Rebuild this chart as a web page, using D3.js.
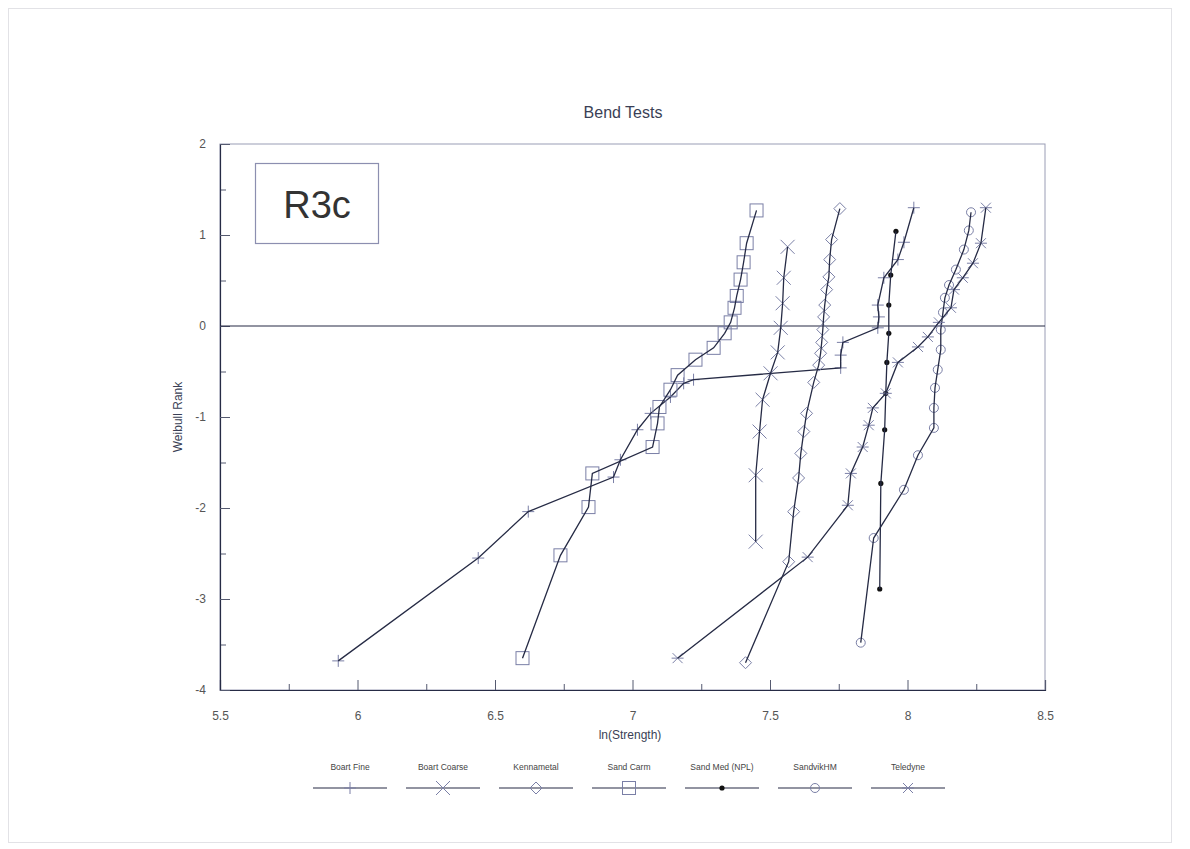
<!DOCTYPE html>
<html>
<head>
<meta charset="utf-8">
<script src="https://cdn.jsdelivr.net/npm/d3@7"></script>
<style>
  html, body { margin: 0; padding: 0; background: #fff; }
  svg { display: block; font-family: "Liberation Sans", Arial, sans-serif; }
</style>
</head>
<body>
<svg id="chart" width="1190" height="849"></svg>
<script>
// ln(strength) / Weibull rank pairs for each material
const boartFineX = [5.930, 6.439, 6.621, 6.931, 6.956, 7.018, 7.066, 7.138, 7.186, 7.222, 7.757, 7.757, 7.765, 7.892, 7.896, 7.892, 7.914, 7.965, 7.987, 8.023];
const boartFineY = [-3.68, -2.55, -2.04, -1.66, -1.47, -1.14, -0.96, -0.78, -0.63, -0.59, -0.46, -0.32, -0.18, -0.02, 0.10, 0.23, 0.53, 0.73, 0.92, 1.30];

const boartCoarseX = [7.448, 7.448, 7.462, 7.473, 7.502, 7.528, 7.539, 7.546, 7.550, 7.564];
const boartCoarseY = [-2.37, -1.64, -1.16, -0.81, -0.52, -0.29, -0.02, 0.25, 0.53, 0.87];

const kennametalX = [7.411, 7.568, 7.586, 7.604, 7.612, 7.623, 7.633, 7.659, 7.677, 7.684, 7.688, 7.692, 7.695, 7.699, 7.706, 7.714, 7.717, 7.724, 7.754];
const kennametalY = [-3.70, -2.59, -2.04, -1.67, -1.40, -1.16, -0.96, -0.62, -0.43, -0.30, -0.18, -0.04, 0.10, 0.23, 0.40, 0.54, 0.73, 0.95, 1.29];

const sandCarmX = [6.600, 6.738, 6.840, 6.854, 7.073, 7.091, 7.098, 7.138, 7.164, 7.229, 7.295, 7.335, 7.357, 7.371, 7.379, 7.393, 7.404, 7.415, 7.451];
const sandCarmY = [-3.65, -2.52, -1.99, -1.62, -1.33, -1.07, -0.89, -0.70, -0.54, -0.37, -0.24, -0.08, 0.04, 0.20, 0.33, 0.51, 0.70, 0.91, 1.27];

const sandMedX = [7.899, 7.903, 7.917, 7.921, 7.925, 7.932, 7.932, 7.939, 7.958];
const sandMedY = [-2.89, -1.73, -1.14, -0.74, -0.40, -0.08, 0.23, 0.56, 1.04];

const sandvikX = [7.830, 7.877, 7.987, 8.038, 8.096, 8.096, 8.100, 8.110, 8.121, 8.121, 8.129, 8.136, 8.151, 8.176, 8.205, 8.223, 8.231];
const sandvikY = [-3.48, -2.33, -1.80, -1.42, -1.12, -0.90, -0.68, -0.48, -0.26, -0.04, 0.15, 0.31, 0.45, 0.62, 0.84, 1.05, 1.25];

const teledyneX = [7.164, 7.637, 7.783, 7.794, 7.837, 7.859, 7.874, 7.921, 7.965, 8.038, 8.074, 8.114, 8.158, 8.169, 8.201, 8.238, 8.267, 8.285];
const teledyneY = [-3.65, -2.54, -1.97, -1.62, -1.33, -1.09, -0.90, -0.74, -0.40, -0.23, -0.12, 0.04, 0.20, 0.40, 0.53, 0.69, 0.91, 1.30];

const seriesNames = ["Boart Fine", "Boart Coarse", "Kennametal", "Sand Carm", "Sand Med (NPL)", "SandvikHM", "Teledyne"];
const seriesMarkers = ["plus", "cross", "diamond", "square", "dot", "circle", "star"];

const xTicks = [5.5, 6, 6.5, 7, 7.5, 8, 8.5];
const xTickLabels = ["5.5", "6", "6.5", "7", "7.5", "8", "8.5"];
const yTicks = [-4, -3, -2, -1, 0, 1, 2];
const yTickLabels = ["-4", "-3", "-2", "-1", "0", "1", "2"];

const seriesData = [
  [boartFineX, boartFineY], [boartCoarseX, boartCoarseY], [kennametalX, kennametalY],
  [sandCarmX, sandCarmY], [sandMedX, sandMedY], [sandvikX, sandvikY], [teledyneX, teledyneY]
].map(([xs, ys], i) => ({
  name: seriesNames[i], marker: seriesMarkers[i],
  points: xs.map((x, j) => ({ x, y: ys[j] }))
}));

const svg = d3.select("#chart");
const lineColor = "#262b45";
const markColor = "#7a7fa6";
const textColor = "#3a3f55";

// faint page frame
svg.append("rect").attr("x", 8.5).attr("y", 8.5).attr("width", 1163).attr("height", 834)
  .attr("fill", "none").attr("stroke", "#e2e2e6").attr("stroke-width", 1);

const plot = { left: 220, right: 1045, top: 144, bottom: 690 };
const x = d3.scaleLinear().domain([5.5, 8.5]).range([plot.left, plot.right]);
const y = d3.scaleLinear().domain([-4, 2]).range([plot.bottom, plot.top]);

// frame
svg.append("rect").attr("x", plot.left).attr("y", plot.top)
  .attr("width", plot.right - plot.left).attr("height", plot.bottom - plot.top)
  .attr("fill", "none").attr("stroke", "#9a9db5").attr("stroke-width", 1);

// bottom axis: major ticks every 0.5, minor ticks in between, drawn inward
const xAxisG = svg.append("g").attr("transform", `translate(0,${plot.bottom})`);
xAxisG.call(d3.axisTop(x).tickValues(d3.range(5.75, 8.5, 0.5)).tickSize(6).tickFormat(""));
xAxisG.call(g => g.selectAll(".domain").remove());
const xMajor = svg.append("g").attr("transform", `translate(0,${plot.bottom})`);
xMajor.call(d3.axisTop(x).tickValues(xTicks).tickSize(10).tickFormat(""));
xMajor.select(".domain").attr("stroke", lineColor).attr("stroke-width", 1.2);
svg.selectAll(".tick line").attr("stroke", "#555a70");
const xLab = svg.append("g").attr("transform", `translate(0,${plot.bottom})`)
  .call(d3.axisBottom(x).tickValues(xTicks).tickSize(0).tickPadding(21).tickFormat((d, i) => xTickLabels[i]));
xLab.select(".domain").remove();
xLab.selectAll("text").attr("font-size", 12).attr("fill", "#555").attr("font-family", "Liberation Sans, Arial, sans-serif");

// left axis
const yMinor = svg.append("g").attr("transform", `translate(${plot.left},0)`);
yMinor.call(d3.axisRight(y).tickValues(d3.range(-3.5, 2, 1)).tickSize(6).tickFormat(""));
yMinor.select(".domain").remove();
const yMajor = svg.append("g").attr("transform", `translate(${plot.left},0)`);
yMajor.call(d3.axisRight(y).tickValues(yTicks).tickSize(10).tickFormat(""));
yMajor.select(".domain").attr("stroke", lineColor).attr("stroke-width", 1.2);
svg.selectAll(".tick line").attr("stroke", "#555a70");
const yLab = svg.append("g").attr("transform", `translate(${plot.left},0)`)
  .call(d3.axisLeft(y).tickValues(yTicks).tickSize(0).tickPadding(14).tickFormat((d, i) => yTickLabels[i]));
yLab.select(".domain").remove();
yLab.selectAll("text").attr("font-size", 12).attr("fill", "#555").attr("font-family", "Liberation Sans, Arial, sans-serif");

// zero reference line
svg.append("line").attr("x1", plot.left).attr("x2", plot.right)
  .attr("y1", y(0)).attr("y2", y(0)).attr("stroke", lineColor).attr("stroke-width", 1.2);

// titles
svg.append("text").attr("x", 623).attr("y", 118).attr("text-anchor", "middle")
  .attr("font-size", 16).attr("fill", textColor).text("Bend Tests");
svg.append("text").attr("x", 630).attr("y", 739).attr("text-anchor", "middle")
  .attr("font-size", 12).attr("fill", textColor).text("ln(Strength)");
svg.append("text").attr("transform", `translate(182,${(plot.top + plot.bottom) / 2}) rotate(-90)`)
  .attr("text-anchor", "middle").attr("font-size", 12).attr("fill", textColor).text("Weibull Rank");

// specimen label box
svg.append("rect").attr("x", 255.5).attr("y", 163.5).attr("width", 123).attr("height", 80)
  .attr("fill", "#fff").attr("stroke", "#8c8fb0").attr("stroke-width", 1.2);
svg.append("text").attr("x", 317).attr("y", 218).attr("text-anchor", "middle")
  .attr("font-size", 38).attr("fill", "#333").text("R3c");

// marker drawing
function drawMarker(g, type, cx, cy) {
  const m = g.append("g").attr("transform", `translate(${cx},${cy})`);
  const st = el => el.attr("fill", "none").attr("stroke", markColor).attr("stroke-width", 1);
  if (type === "plus") {
    st(m.append("path").attr("d", "M-6,0H6M0,-6V6"));
  } else if (type === "cross") {
    st(m.append("path").attr("d", "M-7,-7L7,7M-7,7L7,-7"));
  } else if (type === "diamond") {
    st(m.append("path").attr("d", "M0,-6L6,0L0,6L-6,0Z"));
  } else if (type === "square") {
    st(m.append("rect").attr("x", -6.5).attr("y", -6.5).attr("width", 13).attr("height", 13));
  } else if (type === "dot") {
    m.append("circle").attr("r", 2.6).attr("fill", "#111");
  } else if (type === "circle") {
    st(m.append("circle").attr("r", 4.5));
  } else if (type === "star") {
    st(m.append("path").attr("d", "M-5,-5L5,5M-5,5L5,-5M-6,0H6"));
  }
}

const line = d3.line().x(d => x(d.x)).y(d => y(d.y));
const seriesG = svg.append("g");
seriesData.forEach(s => {
  const g = seriesG.append("g");
  s.points.forEach(p => drawMarker(g, s.marker, x(p.x), y(p.y)));
  g.append("path").datum(s.points).attr("d", line)
    .attr("fill", "none").attr("stroke", lineColor).attr("stroke-width", 1.3);
});

// legend
const legendCenters = d3.scaleLinear().domain([0, 6]).range([350, 908]);
const legend = svg.append("g");
seriesData.forEach((s, i) => {
  const cx = legendCenters(i);
  legend.append("text").attr("x", cx).attr("y", 770).attr("text-anchor", "middle")
    .attr("font-size", 8.5).attr("fill", "#444").text(s.name);
  legend.append("line").attr("x1", cx - 37).attr("x2", cx + 37).attr("y1", 788).attr("y2", 788)
    .attr("stroke", lineColor).attr("stroke-width", 1.2);
  drawMarker(legend, s.marker, cx, 788);
});
</script>
</body>
</html>
